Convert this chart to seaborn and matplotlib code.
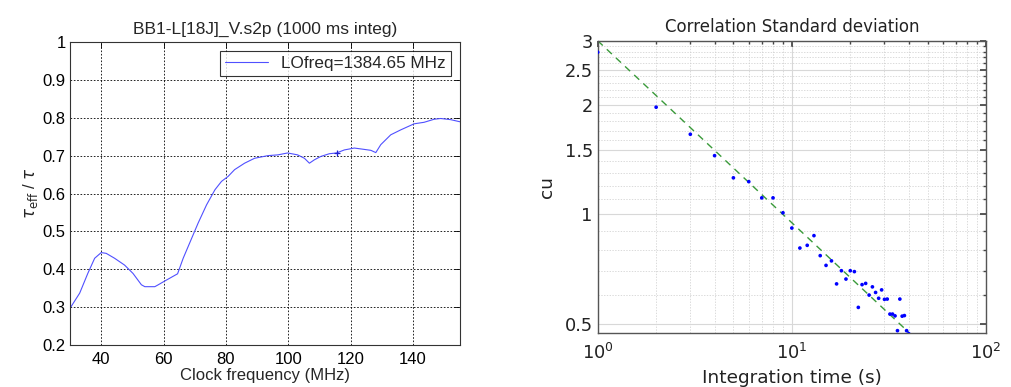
import numpy as np
import pandas as pd
import matplotlib
matplotlib.use("Agg")
import matplotlib.pyplot as plt
import seaborn as sns
from matplotlib.ticker import FixedLocator, FixedFormatter, NullFormatter, LogLocator

# left panel: tau_eff / tau vs clock frequency
clock_mhz = [30, 33.1, 35.7, 37.9, 40, 41.6, 44.3, 47.5, 50.2, 52.9, 54, 57.2, 58.3,
             60.4, 64.5, 66.3, 71.1, 73.8, 76.5, 78.6, 80.7, 82.8, 86.0, 89.2, 93.5,
             96.7, 99.8, 103, 105.2, 106.8, 108.4, 110.5, 113.2, 115.5, 118, 121.2,
             123.9, 126.5, 128.1, 129.7, 132.9, 136.1, 140.4, 143.6, 146.8, 148.9,
             152.1, 155.3]
tau_ratio = [0.297, 0.337, 0.389, 0.429, 0.444, 0.442, 0.429, 0.411, 0.389, 0.359,
             0.354, 0.354, 0.359, 0.369, 0.388, 0.429, 0.522, 0.570, 0.610, 0.632,
             0.645, 0.663, 0.680, 0.693, 0.700, 0.702, 0.707, 0.702, 0.693, 0.680,
             0.689, 0.698, 0.705, 0.707, 0.715, 0.720, 0.717, 0.714, 0.708, 0.729,
             0.755, 0.768, 0.784, 0.788, 0.796, 0.798, 0.795, 0.789]
cursor_point = (115.5, 0.707)

# right panel: correlation std vs integration time
integ_time = list(range(1, 41))
corr_std = [2.79, 1.97, 1.66, 1.45, 1.26, 1.23, 1.11, 1.11, 1.01, 0.917,
            0.808, 0.822, 0.874, 0.770, 0.724, 0.745, 0.644, 0.700, 0.664, 0.700,
            0.696, 0.555, 0.641, 0.646, 0.600, 0.632, 0.610, 0.588, 0.620, 0.584,
            0.585, 0.532, 0.532, 0.526, 0.479, 0.585, 0.525, 0.527, 0.479, 0.470]
fit_time = [1, 40]
fit_std = [3.0, 0.474]

sns.set_theme(style="white")
plt.rcParams["font.family"] = ["Liberation Sans", "DejaVu Sans"]

fig = plt.figure(figsize=(10.12, 3.87), dpi=100)

# ---- left: MATLAB-like plot ----
ax1 = fig.add_axes([0.0692, 0.1085, 0.385, 0.783])
df_left = pd.DataFrame({"f": clock_mhz, "r": tau_ratio})
sns.lineplot(data=df_left, x="f", y="r", ax=ax1, color="#5050ff", linewidth=0.8,
             label="LOfreq=1384.65 MHz")
ax1.plot([cursor_point[0]], [cursor_point[1]], marker="+", color="#2020d0",
         markersize=5, markeredgewidth=0.9)
ax1.set_xlim(30, 155)
ax1.set_ylim(0.2, 1.0)
ax1.set_xticks([40, 60, 80, 100, 120, 140])
ax1.set_yticks([0.2, 0.3, 0.4, 0.5, 0.6, 0.7, 0.8, 0.9, 1.0])
ax1.set_yticklabels(["0.2", "0.3", "0.4", "0.5", "0.6", "0.7", "0.8", "0.9", "1"])
ax1.grid(True, color="black", linestyle=(0, (2, 2)), linewidth=0.6)
ax1.tick_params(direction="in", top=True, right=True, length=4, width=0.6,
                labelsize=12, colors="black", pad=3)
ax1.tick_params(axis="x", pad=5)
for s in ax1.spines.values():
    s.set_color("#333333")
    s.set_linewidth(0.8)
ax1.set_title("BB1-L[18J]_V.s2p (1000 ms integ)", fontsize=12.5, pad=6)
ax1.set_xlabel("Clock frequency (MHz)", fontsize=12, labelpad=1)
ax1.set_ylabel(r"$\tau_{\mathrm{eff}}$ / $\tau$", fontsize=12, labelpad=2)
leg = ax1.legend(loc="upper right", fontsize=12.3, frameon=True, fancybox=False,
                 handlelength=2.5, borderaxespad=0.5, borderpad=0.3)
leg.get_frame().set_edgecolor("black")
leg.get_frame().set_linewidth(0.8)

# ---- right: log-log scatter with fit ----
ax2 = fig.add_axes([0.5906, 0.1387, 0.3837, 0.756])
df_right = pd.DataFrame({"t": integ_time, "s": corr_std})
df_fit = pd.DataFrame({"t": fit_time, "s": fit_std})
sns.lineplot(data=df_fit, x="t", y="s", ax=ax2, color="#3a9a3a", linewidth=1.0,
             linestyle=(0, (5, 4)))
sns.scatterplot(data=df_right, x="t", y="s", ax=ax2, color="#0000ff", s=7,
                edgecolor="none", zorder=3)
ax2.set_xscale("log")
ax2.set_yscale("log")
ax2.set_xlim(1, 100)
ax2.set_ylim(0.471, 3.0)
ax2.yaxis.set_major_locator(FixedLocator([0.5, 1, 1.5, 2, 2.5, 3]))
ax2.yaxis.set_major_formatter(FixedFormatter(["0.5", "1", "1.5", "2", "2.5", "3"]))
ax2.yaxis.set_minor_locator(FixedLocator(list(np.round(np.arange(0.5, 3.0, 0.1), 2))))
ax2.yaxis.set_minor_formatter(NullFormatter())
ax2.xaxis.set_major_locator(LogLocator(base=10))
ax2.xaxis.set_minor_locator(LogLocator(base=10, subs=np.arange(2, 10)))
ax2.xaxis.set_minor_formatter(NullFormatter())
ax2.grid(True, which="major", color="#d8d8d8", linestyle="-", linewidth=0.8)
ax2.grid(True, which="minor", color="#cccccc", linestyle=(0, (2, 2)), linewidth=0.5)
ax2.tick_params(which="both", direction="in", top=True, right=True, colors="#444444",
                labelcolor="#222222", labelsize=12.8, labelfontfamily="DejaVu Sans")
ax2.tick_params(axis="x", which="major", pad=7)
ax2.tick_params(which="major", length=4)
ax2.tick_params(which="minor", length=2)
for s in ax2.spines.values():
    s.set_color("#555555")
    s.set_linewidth(1.0)
ax2.set_title("Correlation Standard deviation", fontsize=12, family="DejaVu Sans",
              color="#222222", pad=6)
ax2.set_xlabel("Integration time (s)", fontsize=13.3, family="DejaVu Sans",
               color="#222222", labelpad=4)
ax2.set_ylabel("cu", fontsize=13.3, family="DejaVu Sans", color="#222222", labelpad=6)

fig.savefig("out.png", dpi=100)
